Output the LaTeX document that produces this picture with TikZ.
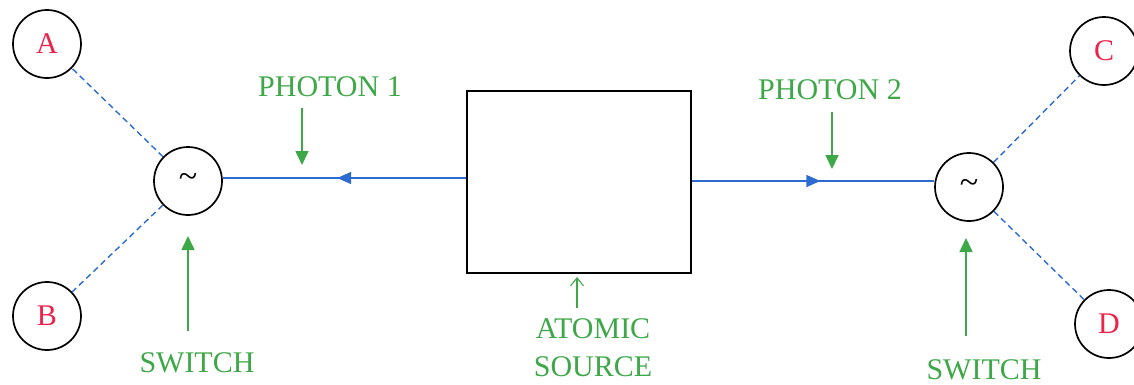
\documentclass[tikz,border=0pt]{standalone}
\usepackage{fontspec}
\setmainfont{Liberation Serif}
\usetikzlibrary{arrows.meta,decorations.markings}
\definecolor{lblgreen}{RGB}{62,168,72}
\definecolor{lblred}{RGB}{236,34,74}
\definecolor{beam}{RGB}{44,108,208}
\tikzset{
  station/.style={circle,draw=black,line width=1.7pt,minimum size=68pt,inner sep=0pt,
    text=lblred,font=\fontsize{30}{30}\selectfont},
  switchbox/.style={circle,draw=black,line width=1.7pt,minimum size=68pt,inner sep=0pt,
    font=\fontsize{34}{34}\selectfont},
  source/.style={draw=black,line width=1.9pt,minimum width=224pt,minimum height=182pt,inner sep=0pt},
  tag/.style={text=lblgreen,font=\fontsize{30}{38}\selectfont,inner sep=0pt,align=center},
  pointer/.style={draw=lblgreen,line width=1.6pt,-{Triangle[length=14pt,width=13pt]}},
  thinpointer/.style={draw=lblgreen,line width=1.1pt,-{Straight Barb[length=8pt,width=13pt]}},
  route/.style={draw=beam,line width=1.6pt},
  beamline/.style={route,postaction={decorate},decoration={markings,
    mark=at position 0.53 with {\arrow{Triangle[length=14pt,width=12pt]}}}},
  choice/.style={draw=beam,line width=1.4pt,dash pattern=on 6pt off 4pt}
}
\begin{document}
\begin{tikzpicture}[x=1pt,y=-1pt]
\useasboundingbox (0,0) rectangle (1134,384);
\clip (0,0) rectangle (1134,384);

% atomic source in the middle
\node[source] (src) at (579,182) {};

% polarisation switches
\node[switchbox] (sl) at (188,181) {\raisebox{2pt}{\textasciitilde}};
\node[switchbox] (sr) at (969,187) {\raisebox{2pt}{\textasciitilde}};

% detector stations
\node[station] (A) at (47,44) {A};
\node[station] (B) at (47,316) {B};
\node[station] (C) at (1104,51) {C};
\node[station] (D) at (1109,324) {D};

% photon paths from the source to the switches
\draw[beamline] (src.west |- 0,178) -- (sl.east |- 0,178);
\draw[beamline] (src.east |- 0,181) -- (sr.west |- 0,181);

% possible routes after each switch
\draw[choice] (sl) -- (A);
\draw[choice] (sl) -- (B);
\draw[choice] (sr) -- (C);
\draw[choice] (sr) -- (D);

% labels
\node[tag] (p1) at (330,87) {PHOTON 1};
\node[tag] (p2) at (830,90) {PHOTON 2};
\node[tag] (swl) at (197,363) {SWITCH};
\node[tag] (swr) at (984,370) {SWITCH};
\node[tag] (atom) at (593,348) {ATOMIC\\SOURCE};

\coordinate (p1tip) at (302,165);
\coordinate (p2tip) at (832,169);
\draw[pointer] (p1tip |- 0,108) -- (p1tip);
\draw[pointer] (p2tip |- 0,112) -- (p2tip);
\draw[pointer] (sl.south |- 0,331) -- (sl.south |- 0,236);
\draw[pointer] (966,336) -- (966,238);
\draw[thinpointer] (577,308) -- (577,277);
\end{tikzpicture}
\end{document}
